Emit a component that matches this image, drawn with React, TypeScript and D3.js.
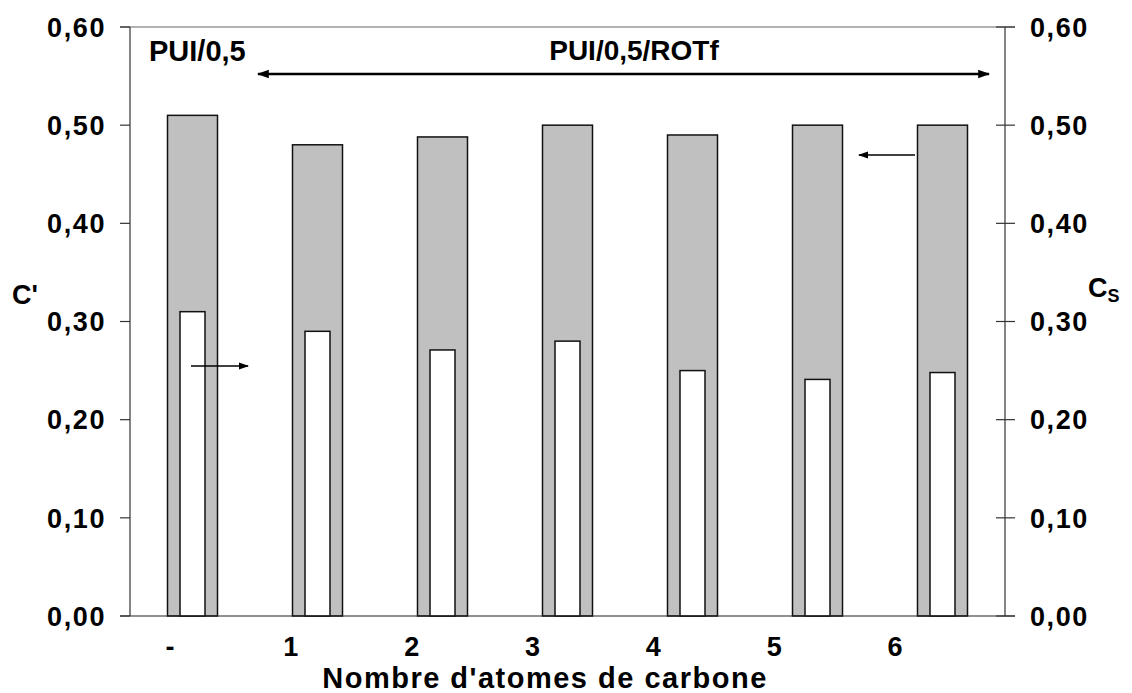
import React from "react";
import * as d3 from "d3";

const categories = ["-", "1", "2", "3", "4", "5", "6"];
const cPrime = [0.51, 0.48, 0.488, 0.5, 0.49, 0.5, 0.5];
const cS = [0.31, 0.29, 0.271, 0.28, 0.25, 0.241, 0.248];
const yTicks = [0, 0.1, 0.2, 0.3, 0.4, 0.5, 0.6];

const W = 1132;
const H = 693;
const M = { left: 130, right: 127, top: 27, bottom: 77 };
const FONT = "'Liberation Sans', Arial, sans-serif";

export default function App() {
  const x0 = M.left;
  const x1 = W - M.right;
  const y0 = H - M.bottom;
  const y1 = M.top;
  const x = d3.scaleBand<string>().domain(categories).range([x0, x1]).padding(0);
  const xLab = d3.scalePoint<string>().domain(categories).range([x0 + 40, x1 - 110]);
  const y = d3.scaleLinear().domain([0, 0.6]).range([y0, y1]);
  const bw = x.bandwidth();
  const grayW = bw * 0.4;
  const whiteW = bw * 0.2;
  const fmt = (v: number) => d3.format(".2f")(v).replace(".", ",");
  const stroke = "#111";

  return (
    <svg width={W} height={H} style={{ position: "absolute", left: 0, top: 0 }} fontFamily={FONT} fontWeight="bold">
      <defs>
        <marker id="ah" viewBox="0 0 10 10" refX="9" refY="5" markerWidth="10" markerHeight="10" orient="auto-start-reverse" markerUnits="userSpaceOnUse">
          <path d="M0,1.5 L10,5 L0,8.5 Z" fill="#000" />
        </marker>
        <marker id="ah2" viewBox="0 0 10 10" refX="9" refY="5" markerWidth="12" markerHeight="12" orient="auto-start-reverse" markerUnits="userSpaceOnUse">
          <path d="M0,1.5 L10,5 L0,8.5 Z" fill="#000" />
        </marker>
      </defs>
      <rect width={W} height={H} fill="#fff" />
      {categories.map((c, i) => {
        const cx = (x(c) as number) + bw / 2;
        return (
          <g key={c}>
            <rect x={cx - grayW / 2} y={y(cPrime[i])} width={grayW} height={y0 - y(cPrime[i])} fill="#c0c0c0" stroke={stroke} strokeWidth={1.5} />
            <rect x={cx - whiteW / 2} y={y(cS[i])} width={whiteW} height={y0 - y(cS[i])} fill="#fff" stroke={stroke} strokeWidth={1.5} />
          </g>
        );
      })}
      <line x1={x0 - 10} x2={x1 + 10} y1={y1} y2={y1} stroke="#666" strokeWidth={1.2} />
      <line x1={x0 - 10} x2={x1 + 10} y1={y0} y2={y0} stroke="#222" strokeWidth={1.2} />
      <line x1={x0} x2={x0} y1={y1} y2={y0} stroke="#333" strokeWidth={1.2} />
      <line x1={x1} x2={x1} y1={y1} y2={y0} stroke="#333" strokeWidth={1.2} />
      {yTicks.map((t) => (
        <g key={"l" + t}>
          <line x1={x0 - 10} x2={x0} y1={y(t)} y2={y(t)} stroke="#333" strokeWidth={1.2} />
          <text x={x0 - 24} y={y(t)} dy="0.36em" textAnchor="end" fontSize={27} letterSpacing={1.6}>{fmt(t)}</text>
          <line x1={x1 - 9} x2={x1 + 10} y1={y(t)} y2={y(t)} stroke="#333" strokeWidth={1.2} />
          <text x={x1 + 25} y={y(t)} dy="0.36em" textAnchor="start" fontSize={27} letterSpacing={1.6}>{fmt(t)}</text>
        </g>
      ))}
      {categories.map((c) => (
        <text key={"x" + c} x={xLab(c)} y={y0 + 40} textAnchor="middle" fontSize={27}>{c}</text>
      ))}
      <text x={545} y={H - 5} textAnchor="middle" fontSize={29} letterSpacing={1.5}>Nombre d'atomes de carbone</text>
      <text x={12} y={304} fontSize={27}>C'</text>
      <text x={1088} y={297} fontSize={27}>C<tspan fontSize={18} dy={5}>S</tspan></text>
      <text x={149} y={61} fontSize={29}>PUI/0,5</text>
      <text x={634} y={60} textAnchor="middle" fontSize={28}>PUI/0,5/ROTf</text>
      <line x1={258} x2={989} y1={74} y2={74} stroke="#000" strokeWidth={2.5} markerStart="url(#ah2)" markerEnd="url(#ah2)" />
      <line x1={191} x2={248} y1={366} y2={366} stroke="#000" strokeWidth={1.5} markerEnd="url(#ah)" />
      <line x1={915} x2={859} y1={155} y2={155} stroke="#000" strokeWidth={1.5} markerEnd="url(#ah)" />
    </svg>
  );
}
